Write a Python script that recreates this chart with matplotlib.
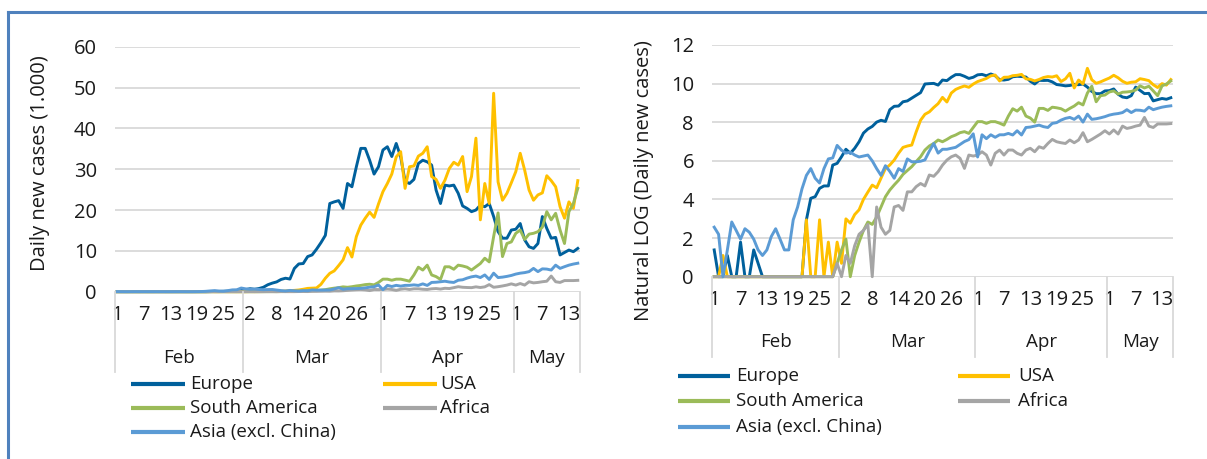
import numpy as np
import matplotlib
matplotlib.use('Agg')
import matplotlib.pyplot as plt
from matplotlib.lines import Line2D
from matplotlib.transforms import blended_transform_factory

# ---------------- data ----------------
months = ['Feb', 'Mar', 'Apr', 'May']
month_days = [29, 31, 30, 15]
day_ticks = ['1', '7', '13', '19', '25', '2', '8', '14', '20', '26',
             '1', '7', '13', '19', '25', '1', '7', '13']
series_names = ['Europe', 'USA', 'South America', 'Africa', 'Asia (excl. China)']
series_colors = ['#00609C', '#FFC000', '#9BBB59', '#A5A5A5', '#5B9BD5']

# daily new cases (1 Feb - 15 May 2020)
europe = [4, 0, 0, 3, 0, 0, 6, 0, 0, 4,
          2, 1, 0, 0, 0, 0, 0, 0, 0, 0,
          0, 19, 58, 63, 97, 110, 110, 324, 354, 500,
          735, 596, 773, 1085, 1700, 2100, 2400, 3000, 3300, 3100,
          5700, 6800, 6900, 8600, 9000, 10400, 12000, 13800, 21600, 22000,
          22300, 20400, 26500, 25700, 30600, 35100, 35100, 32200, 28800, 30600,
          34700, 35500, 33100, 36300, 33100, 27000, 26500, 27500, 31400, 32200,
          31800, 31000, 24900, 21600, 26100, 25900, 26100, 24100, 21000, 20400,
          19600, 20000, 21200, 20800, 21600, 18400, 14700, 13100, 13100, 15100,
          15300, 16700, 12700, 11000, 10600, 11800, 18400, 15500, 13100, 13300,
          9000, 9600, 10200, 9800, 10600]
usa = [0, 0, 3, 0, 0, 0, 0, 0, 0, 0,
       0, 0, 0, 0, 0, 0, 0, 0, 0, 0,
       0, 19, 0, 0, 19, 0, 6, 0, 6, 2,
       20, 16, 25, 32, 55, 80, 115, 100, 165, 270,
       325, 420, 600, 810, 870, 915, 1800, 3300, 4500, 5100,
       6400, 7800, 10800, 8500, 13500, 16300, 18000, 19500, 18200, 21500,
       24500, 26500, 28800, 33000, 34300, 25300, 30600, 30800, 33200, 33900,
       35500, 28200, 27500, 25300, 27300, 30200, 31700, 31000, 33100, 24500,
       28200, 37600, 17600, 26500, 21600, 48600, 26900, 22400, 24100, 26700,
       29400, 33900, 29800, 24900, 22400, 23700, 24200, 28400, 27200, 25700,
       20800, 18000, 22000, 20400, 27200]
south_america = [0, 0, 0, 0, 0, 0, 0, 0, 0, 0,
                 0, 0, 0, 0, 0, 0, 0, 0, 0, 0,
                 0, 0, 0, 0, 0, 1, 0, 1, 2, 4,
                 7, 1, 3, 6, 11, 17, 15, 22, 37, 63,
                 89, 116, 148, 200, 245, 299, 388, 498, 706, 871,
                 992, 1188, 1085, 1224, 1408, 1540, 1737, 1830, 1670, 2270,
                 3072, 3072, 2807, 3072, 3072, 2840, 2566, 4100, 6000, 5300,
                 6500, 4100, 3700, 3000, 6100, 6100, 5500, 6500, 6300, 6000,
                 5300, 6100, 6900, 8200, 7300, 13500, 19300, 8600, 11800, 12200,
                 14300, 15100, 12800, 14100, 14300, 14700, 15800, 19600, 17600, 19200,
                 15100, 11800, 19600, 21600, 25300]
africa = [0, 0, 0, 0, 0, 0, 0, 0, 0, 0,
          0, 0, 0, 0, 0, 0, 0, 0, 0, 0,
          0, 0, 0, 0, 0, 0, 0, 0, 2, 1,
          3, 2, 5, 9, 11, 15, 0, 37, 13, 9,
          11, 37, 40, 31, 81, 81, 106, 125, 110, 194,
          181, 230, 324, 420, 498, 545, 459, 273, 545, 518,
          545, 646, 545, 324, 596, 706, 545, 706, 706, 596,
          545, 706, 773, 646, 837, 773, 992, 1224, 1085, 1030,
          992, 1188, 1030, 1188, 1737, 1085, 1224, 1408, 1620, 1920,
          1620, 2000, 1620, 2440, 2160, 2270, 2440, 2566, 3827, 2440,
          2270, 2725, 2725, 2725, 2780]
asia = [13, 9, 1, 4, 17, 11, 7, 12, 10, 7,
        4, 3, 4, 8, 12, 7, 4, 4, 19, 37,
        95, 190, 270, 164, 128, 270, 446, 469, 898, 700,
        602, 633, 545, 493, 518, 545, 403, 270, 190, 314,
        233, 164, 270, 233, 446, 384, 384, 395, 424, 665,
        992, 602, 735, 735, 773, 812, 944, 1097, 1212, 1636,
        493, 1556, 1274, 1556, 1366, 1556, 1556, 1670, 1540, 1920,
        1540, 2270, 2320, 2440, 2566, 2370, 2270, 2807, 2922, 3330,
        3641, 3827, 3463, 4105, 3000, 4537, 3463, 3570, 3750, 3983,
        4316, 4537, 4676, 4915, 5710, 4915, 5597, 5540, 5300, 6503,
        5710, 6124, 6503, 6770, 6974]

all_series = [europe, usa, south_america, africa, asia]

# ---------------- figure ----------------
W, H = 1207, 459
plt.rcParams['font.family'] = ['Open Sans', 'DejaVu Sans']
fig = plt.figure(figsize=(W / 100, H / 100), dpi=100)

GRID = '#D9D9D9'
TXT = '#1A1A1A'
FS_TICK = 14.5
FS_LAB = 14.5
FS_MON = 13.5
FS_LEG = 13.5


def rect(x0, x1, ytop, ybot):
    return [x0 / W, 1 - ybot / H, (x1 - x0) / W, (ybot - ytop) / H]


def style_axis(ax, ymax, ystep, sep_depth, tick_pad, month_y):
    n = sum(month_days)
    ax.set_xlim(-0.5, n - 0.5)
    ax.set_ylim(0, ymax)
    ax.set_yticks(np.arange(0, ymax + 0.01, ystep))
    ax.set_yticklabels([f'{int(v)}' for v in np.arange(0, ymax + 0.01, ystep)])
    ax.yaxis.grid(True, color=GRID, lw=1.3)
    ax.set_axisbelow(True)
    for s in ax.spines.values():
        s.set_visible(False)
    ax.set_xticks(np.arange(0, n, 6))
    ax.set_xticklabels(day_ticks)
    ax.tick_params(axis='both', length=0, labelsize=FS_TICK, colors=TXT)
    ax.tick_params(axis='y', pad=13)
    ax.tick_params(axis='x', pad=tick_pad)
    trans = blended_transform_factory(ax.transData, ax.transAxes)
    bounds = np.concatenate([[0], np.cumsum(month_days)]) - 0.5
    for b in bounds:
        ax.plot([b, b], [0, -sep_depth], transform=trans, color=GRID, lw=1.3,
                clip_on=False)
    for m, a, b in zip(months, bounds[:-1], bounds[1:]):
        ax.text((a + b) / 2, month_y, m, transform=trans, ha='center',
                va='center', fontsize=FS_MON, color=TXT)


x = np.arange(sum(month_days))

axL = fig.add_axes(rect(115, 580, 46.7, 291.7))
for vals, col in zip(all_series, series_colors):
    axL.plot(x, np.array(vals) / 1000.0, color=col, lw=2.1, clip_on=False,
             solid_joinstyle='round')
style_axis(axL, 60, 10, 80 / 245, 9.5, -66 / 245)

axR = fig.add_axes(rect(712, 1173, 45, 276.7))
for vals, col in zip(all_series, series_colors):
    v = np.array(vals, dtype=float)
    axR.plot(x, np.log(np.maximum(v, 1)), color=col, lw=2.1, clip_on=False,
             solid_joinstyle='round')
style_axis(axR, 12, 2, 80 / 231.7, 9.5, -65 / 231.7)

fig.text(40 / W, 1 - 163 / H, 'Daily new cases (1.000)', rotation=90,
         ha='center', va='center', fontsize=FS_LAB, color=TXT)
fig.text(644 / W, 1 - 181 / H, 'Natural LOG (Daily new cases)', rotation=90,
         ha='center', va='center', fontsize=FS_LAB, color=TXT)


# legends
def legend(rows_y, col_x):
    order = [(0, 0, 0), (1, 0, 1), (2, 1, 0), (3, 1, 1), (4, 2, 0)]
    for idx, r, c in order:
        y = 1 - rows_y[r] / H
        x0, x1, xt = col_x[c]
        fig.add_artist(Line2D([x0 / W, x1 / W], [y, y], color=series_colors[idx],
                              lw=3, solid_capstyle='butt'))
        fig.text(xt / W, y, series_names[idx], ha='left', va='center',
                 fontsize=FS_LEG, color=TXT)


legend([384, 408, 432], [(131, 185, 190), (383, 437, 440)])
legend([376, 401, 427], [(678, 730, 736), (958, 1010, 1018)])

# frame
fc = '#4F81BD'
fig.add_artist(Line2D([8 / W, 1], [1 - 12 / H, 1 - 12 / H], color=fc, lw=2.2))
fig.add_artist(Line2D([8 / W, 8 / W], [0, 1 - 12 / H], color=fc, lw=2.2))

fig.savefig('out.png', dpi=100)
